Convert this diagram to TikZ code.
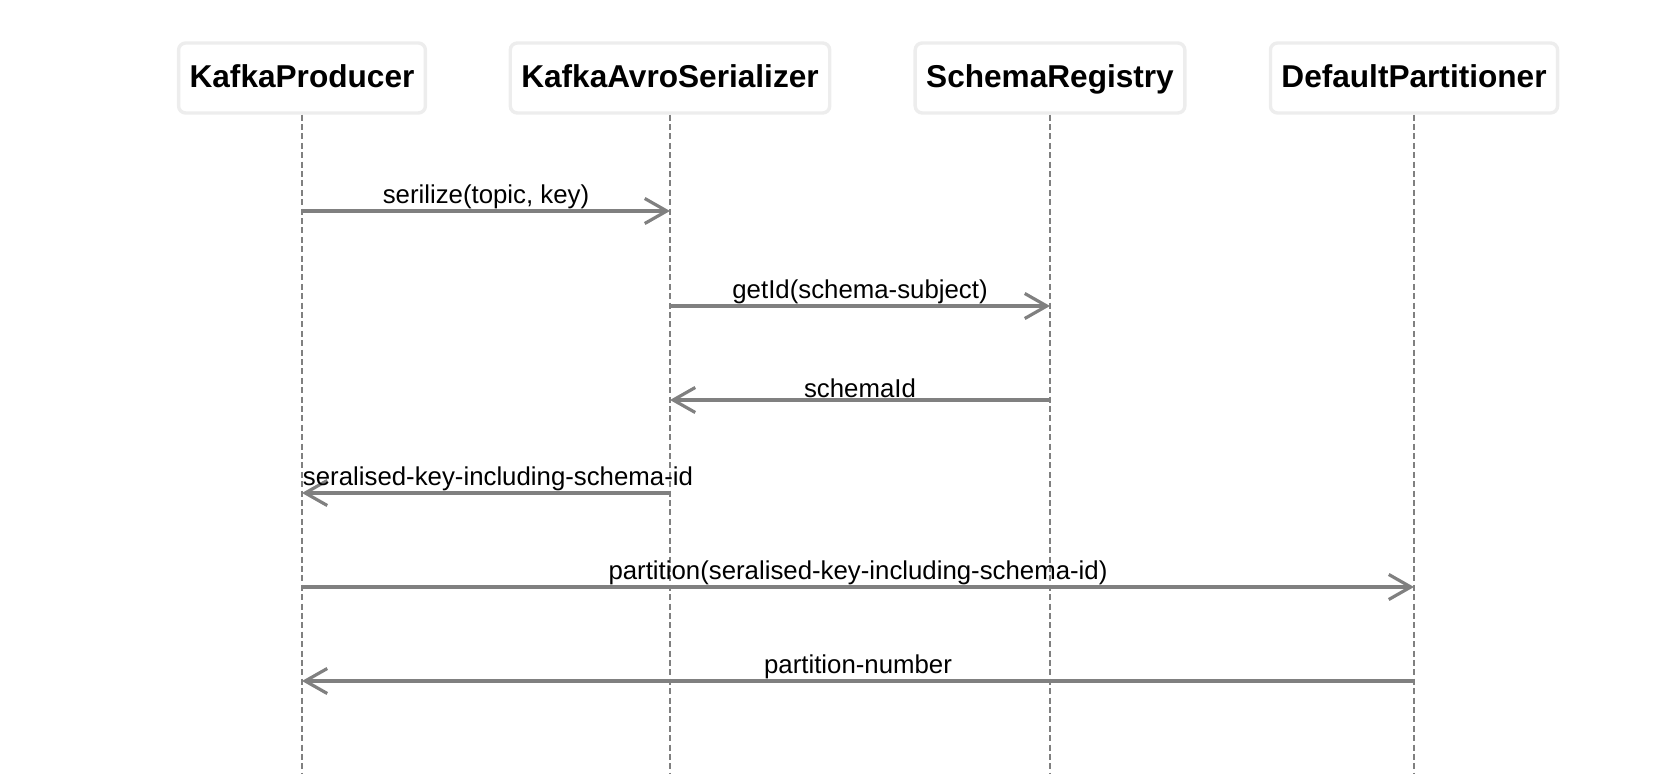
\documentclass[tikz,border=0pt]{standalone}
\usepackage{fontspec}
\setmainfont{Liberation Sans}
\usetikzlibrary{arrows.meta}

\tikzset{
  actor/.style={draw=black!7, line width=1.7pt, rounded corners=3.5pt, fill=white,
    minimum height=35pt, inner xsep=5.5pt, text height=13.5pt, text depth=3.5pt,
    font=\fontsize{15.8}{18}\selectfont\bfseries},
  lifeline/.style={draw=black!50, line width=0.8pt, dash pattern=on 3pt off 1.7pt},
  msg/.style={draw=black!50, line width=1.6pt, -{Straight Barb[length=11pt,width=12.5pt]}},
  msglabel/.style={above, inner sep=0.3pt, text=black, font=\fontsize{12.9}{15}\selectfont}
}

\begin{document}
\begin{tikzpicture}[x=0.5pt,y=-0.5pt]
\useasboundingbox (0,0) rectangle (1674,774);

% participants
\node [actor] (producer) at (302,78) {KafkaProducer};
\node [actor] (serializer) at (670,78) {KafkaAvroSerializer};
\node [actor] (registry) at (1050,78) {SchemaRegistry};
\node [actor] (partitioner) at (1414,78) {DefaultPartitioner};

% lifelines
\foreach \p in {producer,serializer,registry,partitioner}{
	\coordinate (\p-end) at (\p.south |- 0,774);
	\draw [lifeline] (\p.south) -- (\p-end);
	\foreach \n/\y in {1/211,2/306,3/400,4/493,5/587,6/681}{
		\coordinate (\p-\n) at (\p.south |- 0,\y);
		}
	}

% messages
\draw [msg] (producer-1) -- node [msglabel] {serilize(topic, key)} (serializer-1);
\draw [msg] (serializer-2) -- node [msglabel] {getId(schema-subject)} (registry-2);
\draw [msg] (registry-3) -- node [msglabel] {schemaId} (serializer-3);
\draw [msg] (serializer-4) -- node [msglabel,xshift=6pt] {seralised-key-including-schema-id} (producer-4);
\draw [msg] (producer-5) -- node [msglabel] {partition(seralised-key-including-schema-id)} (partitioner-5);
\draw [msg] (partitioner-6) -- node [msglabel] {partition-number} (producer-6);

\end{tikzpicture}
\end{document}
